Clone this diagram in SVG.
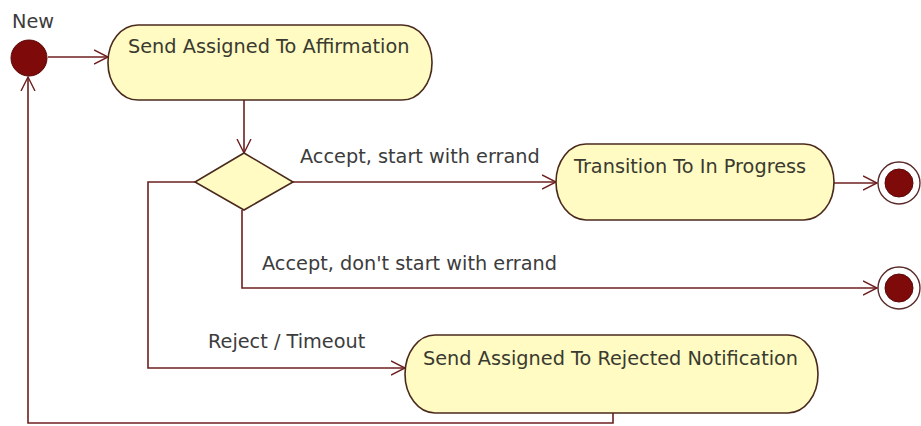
<svg xmlns="http://www.w3.org/2000/svg" width="921" height="426" viewBox="0 0 921 426">
  <style>
    .act { fill: #fffbc2; stroke: #4b2a1e; stroke-width: 1.6; }
    .edge { fill: none; stroke: #6e1f1f; stroke-width: 1.6; }
    .txt { font-family: "DejaVu Sans", Verdana, sans-serif; font-size: 19.3px; fill: #3a3a30; }
    .lbl { font-family: "DejaVu Sans", Verdana, sans-serif; font-size: 19.3px; fill: #3c3c3c; }
    .dot { fill: #7f0a0a; stroke: #5a0808; stroke-width: 1; }
    .ring { fill: #ffffff; stroke: #5a2a2a; stroke-width: 1.4; }
  </style>
  <defs>
    <marker id="open" markerWidth="16" markerHeight="16" refX="14" refY="8" orient="auto" markerUnits="userSpaceOnUse">
      <path d="M0,1 L14,8 L0,15" fill="none" stroke="#6e1f1f" stroke-width="1.4"/>
    </marker>
  </defs>
  <rect width="921" height="426" fill="#ffffff"/>

  <g id="connectors">
    <path class="edge" d="M48,57 H108" marker-end="url(#open)"/>
    <path class="edge" d="M244,100 V153" marker-end="url(#open)"/>
    <path class="edge" d="M293,182 H556" marker-end="url(#open)"/>
    <path class="edge" d="M834,183 H877" marker-end="url(#open)"/>
    <path class="edge" d="M242,210 V288 H877" marker-end="url(#open)"/>
    <path class="edge" d="M195,182 H148 V368 H405" marker-end="url(#open)"/>
    <path class="edge" d="M613,413 V423 H28 V77" marker-end="url(#open)"/>
    <text class="lbl" x="300" y="163">Accept, start with errand</text>
    <text class="lbl" x="262" y="270">Accept, don't start with errand</text>
    <text class="lbl" x="208" y="348">Reject / Timeout</text>
  </g>

  <g id="start">
    <circle class="dot" cx="29" cy="58" r="18"/>
    <text class="lbl" x="12" y="28">New</text>
  </g>

  <g id="affirmation">
    <rect class="act" x="108" y="25" width="324" height="75" rx="30" ry="37"/>
    <text class="txt" x="128" y="53">Send Assigned To Affirmation</text>
  </g>

  <g id="decision">
    <polygon class="act" points="244,153 293,182 244,210 195,182"/>
  </g>

  <g id="in-progress">
    <rect class="act" x="556" y="144" width="278" height="76" rx="30" ry="38"/>
    <text class="txt" x="574" y="173">Transition To In Progress</text>
  </g>

  <g id="rejected">
    <rect class="act" x="405" y="335" width="413" height="78" rx="30" ry="39"/>
    <text class="txt" x="423" y="365">Send Assigned To Rejected Notification</text>
  </g>

  <g id="final-1">
    <circle class="ring" cx="899" cy="183" r="21"/>
    <circle class="dot" cx="899" cy="183" r="14"/>
  </g>

  <g id="final-2">
    <circle class="ring" cx="899" cy="288" r="21"/>
    <circle class="dot" cx="899" cy="288" r="14"/>
  </g>
</svg>
